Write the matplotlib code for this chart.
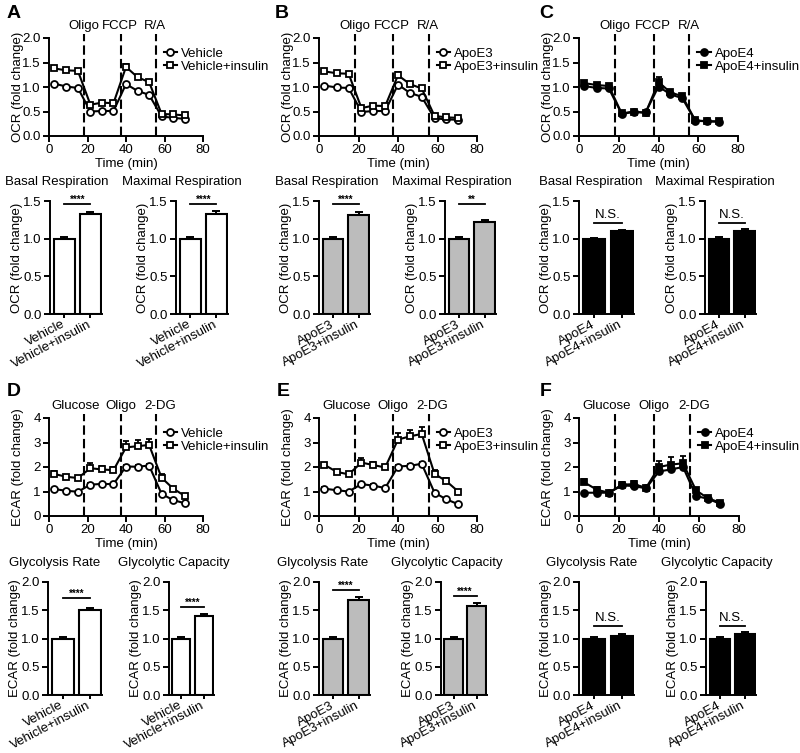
import numpy as np
import matplotlib
matplotlib.use("Agg")
import matplotlib.pyplot as plt

plt.rcParams['font.family'] = ['Liberation Sans', 'DejaVu Sans']

W, H = 800, 753

# ---- data -------------------------------------------------------------
times = [2.5, 9, 15, 21.5, 27.5, 33.5, 40, 46, 52, 58.5, 64.5, 70.5]

# OCR time courses
ocr_veh = [1.07, 1.01, 0.98, 0.50, 0.51, 0.51, 1.06, 0.92, 0.84, 0.40, 0.37, 0.35]
ocr_veh_err = [0.02, 0.02, 0.02, 0.02, 0.02, 0.02, 0.03, 0.02, 0.02, 0.02, 0.02, 0.02]
ocr_veh_ins = [1.38, 1.34, 1.33, 0.64, 0.68, 0.67, 1.41, 1.20, 1.10, 0.45, 0.44, 0.42]
ocr_veh_ins_err = [0.03, 0.03, 0.03, 0.03, 0.02, 0.02, 0.06, 0.04, 0.03, 0.03, 0.02, 0.02]

ocr_e3 = [1.03, 0.99, 0.98, 0.49, 0.51, 0.51, 1.05, 0.88, 0.80, 0.36, 0.34, 0.33]
ocr_e3_err = [0.02, 0.02, 0.02, 0.02, 0.02, 0.02, 0.03, 0.02, 0.02, 0.02, 0.02, 0.02]
ocr_e3_ins = [1.32, 1.28, 1.27, 0.57, 0.62, 0.61, 1.24, 1.06, 0.97, 0.41, 0.38, 0.37]
ocr_e3_ins_err = [0.05, 0.04, 0.04, 0.03, 0.03, 0.03, 0.06, 0.04, 0.04, 0.03, 0.02, 0.02]

ocr_e4 = [1.02, 0.98, 0.97, 0.45, 0.49, 0.48, 1.01, 0.85, 0.77, 0.31, 0.30, 0.29]
ocr_e4_err = [0.02, 0.02, 0.02, 0.02, 0.02, 0.02, 0.03, 0.02, 0.02, 0.01, 0.01, 0.01]
ocr_e4_ins = [1.08, 1.04, 1.02, 0.46, 0.50, 0.47, 1.10, 0.89, 0.81, 0.32, 0.30, 0.30]
ocr_e4_ins_err = [0.03, 0.03, 0.03, 0.02, 0.02, 0.02, 0.11, 0.03, 0.03, 0.02, 0.01, 0.01]

# ECAR time courses
ecar_veh = [1.10, 1.03, 0.99, 1.28, 1.31, 1.30, 2.02, 2.01, 2.06, 0.90, 0.65, 0.52]
ecar_veh_err = [0.04, 0.04, 0.04, 0.05, 0.05, 0.05, 0.06, 0.06, 0.06, 0.04, 0.03, 0.03]
ecar_veh_ins = [1.72, 1.60, 1.55, 1.95, 1.90, 1.87, 2.80, 2.85, 2.90, 1.56, 1.12, 0.82]
ecar_veh_ins_err = [0.10, 0.08, 0.08, 0.20, 0.14, 0.14, 0.25, 0.25, 0.25, 0.16, 0.08, 0.06]

ecar_e3 = [1.12, 1.05, 1.00, 1.30, 1.24, 1.14, 2.02, 2.05, 2.13, 0.95, 0.68, 0.48]
ecar_e3_err = [0.05, 0.04, 0.04, 0.05, 0.05, 0.05, 0.08, 0.06, 0.08, 0.04, 0.03, 0.03]
ecar_e3_ins = [2.10, 1.80, 1.70, 2.18, 2.08, 1.98, 3.12, 3.25, 3.35, 1.72, 1.42, 1.00]
ecar_e3_ins_err = [0.08, 0.06, 0.08, 0.20, 0.12, 0.12, 0.25, 0.25, 0.28, 0.15, 0.15, 0.08]

ecar_e4 = [0.95, 0.95, 0.95, 1.25, 1.22, 1.13, 1.82, 1.90, 2.00, 0.82, 0.70, 0.50]
ecar_e4_err = [0.04, 0.04, 0.04, 0.06, 0.06, 0.05, 0.12, 0.12, 0.12, 0.04, 0.03, 0.03]
ecar_e4_ins = [1.38, 1.07, 0.95, 1.28, 1.30, 1.15, 2.00, 2.10, 2.15, 1.05, 0.72, 0.55]
ecar_e4_ins_err = [0.15, 0.12, 0.08, 0.12, 0.12, 0.08, 0.25, 0.30, 0.28, 0.10, 0.06, 0.06]

ocr_inject = ['Oligo', 'FCCP', 'R/A']
ecar_inject = ['Glucose', 'Oligo', '2-DG']
inject_times = [18, 37.5, 55.5]

# bar summaries: [control, +insulin] and their errors
basal_veh = [1.00, 1.33];   basal_veh_err = [0.02, 0.03]
maxr_veh = [1.00, 1.33];    maxr_veh_err = [0.02, 0.04]
basal_e3 = [1.00, 1.31];    basal_e3_err = [0.02, 0.04]
maxr_e3 = [1.00, 1.22];     maxr_e3_err = [0.02, 0.03]
basal_e4 = [1.00, 1.10];    basal_e4_err = [0.01, 0.01]
maxr_e4 = [1.00, 1.10];     maxr_e4_err = [0.02, 0.03]
glyc_veh = [1.00, 1.50];    glyc_veh_err = [0.02, 0.04]
cap_veh = [1.00, 1.40];     cap_veh_err = [0.02, 0.04]
glyc_e3 = [1.00, 1.69];     glyc_e3_err = [0.03, 0.04]
cap_e3 = [1.00, 1.58];      cap_e3_err = [0.02, 0.04]
glyc_e4 = [1.00, 1.04];     glyc_e4_err = [0.02, 0.04]
cap_e4 = [1.00, 1.08];      cap_e4_err = [0.02, 0.03]

FS = 9.5
fig = plt.figure(figsize=(W / 100, H / 100), dpi=100)


def px_axes(l, r, b, t):
    return fig.add_axes([l / W, 1 - b / H, (r - l) / W, (b - t) / H])


def style(ax, ylab, dpx, wpx):
    for s in ['top', 'right']:
        ax.spines[s].set_visible(False)
    for s in ['left', 'bottom']:
        ax.spines[s].set_linewidth(1.4)
    ax.tick_params(direction='out', length=4, width=1.4, labelsize=FS, pad=2)
    ax.set_ylabel(ylab, fontsize=FS)
    ax.yaxis.set_label_coords(-dpx / wpx, 0.5)


def line_panel(box, ylab, ymax, yticks, names, s1, e1, s2, e2, filled, inj, inj_x):
    l, r, b, t = box
    ax = px_axes(l, r, b, t)
    fc = 'black' if filled else 'white'
    handles = []
    for s, e, mk, nm, z in [(s1, e1, 'o', names[0], 3), (s2, e2, 's', names[1], 4)]:
        ax.errorbar(times, s, yerr=[np.zeros(len(e)), e], fmt='none', ecolor='black',
                    elinewidth=1.3, capsize=2.5, capthick=1.3, zorder=z)
        h, = ax.plot(times, s, color='black', lw=1.5, marker=mk, ms=5, mfc=fc,
                     mec='black', mew=1.3, label=nm, zorder=z)
        handles.append(h)
    for x in inject_times:
        ax.axvline(x, ymin=0, ymax=1.04, color='black', lw=1.5, ls=(0, (4.5, 2)),
                   clip_on=False, zorder=2)
    for lab, x in zip(inj, inj_x):
        ax.text(x, ymax * 1.12, lab, ha='center', va='center', fontsize=FS)
    ax.set_xlim(0, 80)
    ax.set_ylim(0, ymax)
    ax.set_xticks([0, 20, 40, 60, 80])
    ax.set_yticks(yticks)
    ax.set_xlabel('Time (min)', fontsize=FS, labelpad=1.5)
    style(ax, ylab, 25, r - l)
    ax.legend(handles=handles, loc='upper left', bbox_to_anchor=(0.745, 0.9),
              frameon=False, fontsize=FS, handlelength=1.0, handletextpad=0.3,
              labelspacing=0.05, borderpad=0, borderaxespad=0)
    return ax


def bar_panel(box, ylab, ymax, yticks, labels, vals, errs, color, sig, sig_y, title, title_x):
    l, r, b, t = box
    ax = px_axes(l, r, b, t)
    ax.bar([0, 1], vals, width=0.8, color=color, edgecolor='black', lw=1.5, zorder=2)
    ax.errorbar([0, 1], vals, yerr=[[0, 0], errs], fmt='none', ecolor='black',
                elinewidth=1.4, capsize=3, capthick=1.4, zorder=3)
    ax.plot([0, 1], [sig_y, sig_y], color='black', lw=1.3, clip_on=False)
    if sig == 'N.S.':
        ax.text(0.5, sig_y + ymax * 0.02, sig, ha='center', va='bottom', fontsize=FS)
    else:
        ax.text(0.5, sig_y - ymax * 0.005, sig, ha='center', va='bottom', fontsize=7,
                fontweight='bold')
    ax.set_xlim(-0.55, 1.45)
    ax.set_ylim(0, ymax)
    ax.set_yticks(yticks)
    ax.set_yticklabels([f'{v:.1f}' for v in yticks])
    ax.set_xticks([0, 1])
    style(ax, ylab, 27, r - l)
    ax.set_xticklabels(labels, rotation=28, ha='right', va='center',
                       rotation_mode='anchor', fontsize=9.5)
    ax.tick_params(axis='x', length=3, pad=4)
    fig.text(title_x / W, 1 - (t - 19) / H, title, ha='center', va='center',
             fontsize=FS)
    return ax


ocr_ticks = [0.0, 0.5, 1.0, 1.5, 2.0]
ecar_ticks = [0, 1, 2, 3, 4]
ocr_lab_x = [18, 37, 55.2]
ecar_lab_x = [14, 37.4, 57.5]

# top row: OCR time courses
a1 = line_panel((49, 203, 136, 38), 'OCR (fold change)', 2.0, ocr_ticks,
                ['Vehicle', 'Vehicle+insulin'], ocr_veh, ocr_veh_err, ocr_veh_ins,
                ocr_veh_ins_err, False, ocr_inject, ocr_lab_x)
a1.set_yticklabels([f'{v:.1f}' for v in ocr_ticks])
b1 = line_panel((319, 477, 136, 38), 'OCR (fold change)', 2.0, ocr_ticks,
                ['ApoE3', 'ApoE3+insulin'], ocr_e3, ocr_e3_err, ocr_e3_ins,
                ocr_e3_ins_err, False, ocr_inject, ocr_lab_x)
b1.set_yticklabels([f'{v:.1f}' for v in ocr_ticks])
c1 = line_panel((579, 738, 136, 38), 'OCR (fold change)', 2.0, ocr_ticks,
                ['ApoE4', 'ApoE4+insulin'], ocr_e4, ocr_e4_err, ocr_e4_ins,
                ocr_e4_ins_err, True, ocr_inject, ocr_lab_x)
c1.set_yticklabels([f'{v:.1f}' for v in ocr_ticks])

# ECAR time courses
d1 = line_panel((49, 203, 516, 418), 'ECAR (fold change)', 4, ecar_ticks,
                ['Vehicle', 'Vehicle+insulin'], ecar_veh, ecar_veh_err, ecar_veh_ins,
                ecar_veh_ins_err, False, ecar_inject, ecar_lab_x)
e1 = line_panel((319, 477, 516, 418), 'ECAR (fold change)', 4, ecar_ticks,
                ['ApoE3', 'ApoE3+insulin'], ecar_e3, ecar_e3_err, ecar_e3_ins,
                ecar_e3_ins_err, False, ecar_inject, ecar_lab_x)
f1 = line_panel((579, 739, 516, 418), 'ECAR (fold change)', 4, ecar_ticks,
                ['ApoE4', 'ApoE4+insulin'], ecar_e4, ecar_e4_err, ecar_e4_ins,
                ecar_e4_ins_err, True, ecar_inject, ecar_lab_x)

veh_lab = ['Vehicle', 'Vehicle+insulin']
e3_lab = ['ApoE3', 'ApoE3+insulin']
e4_lab = ['ApoE4', 'ApoE4+insulin']
gray = '#bcbcbc'
o_ticks = [0.0, 0.5, 1.0, 1.5]
g_ticks = [0.0, 0.5, 1.0, 1.5, 2.0]

bar_panel((50, 102, 314, 201), 'OCR (fold change)', 1.5, o_ticks, veh_lab, basal_veh,
          basal_veh_err, 'white', '****', 1.46, 'Basal Respiration', 57)
bar_panel((176, 228, 314, 201), 'OCR (fold change)', 1.5, o_ticks, veh_lab, maxr_veh,
          maxr_veh_err, 'white', '****', 1.46, 'Maximal Respiration', 182)
bar_panel((319, 370, 314, 201), 'OCR (fold change)', 1.5, o_ticks, e3_lab, basal_e3,
          basal_e3_err, gray, '****', 1.46, 'Basal Respiration', 327)
bar_panel((445, 496, 314, 201), 'OCR (fold change)', 1.5, o_ticks, e3_lab, maxr_e3,
          maxr_e3_err, gray, '**', 1.46, 'Maximal Respiration', 452)
bar_panel((579, 634, 314, 201), 'OCR (fold change)', 1.5, o_ticks, e4_lab, basal_e4,
          basal_e4_err, 'black', 'N.S.', 1.21, 'Basal Respiration', 591)
bar_panel((705, 756, 314, 201), 'OCR (fold change)', 1.5, o_ticks, e4_lab, maxr_e4,
          maxr_e4_err, 'black', 'N.S.', 1.21, 'Maximal Respiration', 715)

bar_panel((48, 102, 695, 582), 'ECAR (fold change)', 2.0, g_ticks, veh_lab, glyc_veh,
          glyc_veh_err, 'white', '****', 1.72, 'Glycolysis Rate', 55)
bar_panel((169, 214, 695, 582), 'ECAR (fold change)', 2.0, g_ticks, veh_lab, cap_veh,
          cap_veh_err, 'white', '****', 1.56, 'Glycolytic Capacity', 174)
bar_panel((319, 370, 695, 582), 'ECAR (fold change)', 2.0, g_ticks, e3_lab, glyc_e3,
          glyc_e3_err, gray, '****', 1.86, 'Glycolysis Rate', 323)
bar_panel((441, 487, 695, 582), 'ECAR (fold change)', 2.0, g_ticks, e3_lab, cap_e3,
          cap_e3_err, gray, '****', 1.75, 'Glycolytic Capacity', 447)
bar_panel((579, 634, 695, 582), 'ECAR (fold change)', 2.0, g_ticks, e4_lab, glyc_e4,
          glyc_e4_err, 'black', 'N.S.', 1.22, 'Glycolysis Rate', 592)
bar_panel((706, 756, 695, 582), 'ECAR (fold change)', 2.0, g_ticks, e4_lab, cap_e4,
          cap_e4_err, 'black', 'N.S.', 1.22, 'Glycolytic Capacity', 717)

# panel letters
for lab, x, y in [('A', 14, 14), ('B', 282, 14), ('C', 546, 14),
                  ('D', 14, 391), ('E', 283, 391), ('F', 546, 391)]:
    fig.text(x / W, 1 - y / H, lab, ha='center', va='center', fontsize=14,
             fontweight='bold')

fig.savefig('out.png', dpi=100)
